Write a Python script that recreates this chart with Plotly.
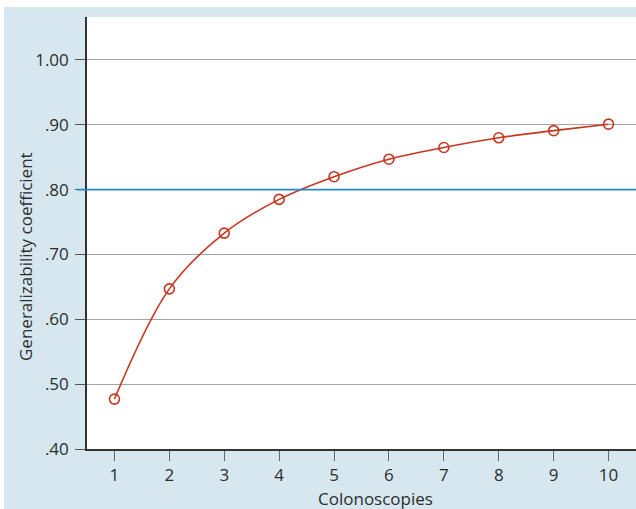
import plotly.graph_objects as go

colonoscopies = [1, 2, 3, 4, 5, 6, 7, 8, 9, 10]
g_coefficient = [0.477, 0.647, 0.733, 0.785, 0.820, 0.847, 0.865, 0.880, 0.891, 0.901]
threshold = 0.80
y_tick_vals = [0.40, 0.50, 0.60, 0.70, 0.80, 0.90, 1.00]
y_tick_text = [".40", ".50", ".60", ".70", ".80", ".90", "1.00"]
x_tick_vals = colonoscopies
x_tick_text = [str(v) for v in colonoscopies]

RED = "#c8351f"
BLUE = "#2389bf"
BG = "#d6e7f0"
FONT = "Open Sans"
TXT = "#2d2d2d"

fig = go.Figure()
fig.add_trace(go.Scatter(
    x=colonoscopies, y=g_coefficient, mode="lines+markers",
    line=dict(color=RED, width=1.6, shape="spline", smoothing=1.0),
    marker=dict(symbol="circle-open", size=10, color=RED, line=dict(width=1.6, color=RED)),
    showlegend=False, cliponaxis=False, hoverinfo="skip",
))

# threshold line, extends into tick area like a tick
fig.add_shape(type="line", xref="paper", yref="y", x0=-10/549, x1=1, y0=threshold, y1=threshold,
              line=dict(color=BLUE, width=1.8), layer="above")
# white strips at top and left of page
fig.add_shape(type="rect", xref="paper", yref="paper", x0=-0.3, x1=1.2,
              y0=(449-7)/432, y1=1.3, fillcolor="white", line=dict(width=0), layer="below")
fig.add_shape(type="rect", xref="paper", yref="paper", x0=-0.3, x1=(4-87)/549,
              y0=-0.3, y1=1.3, fillcolor="white", line=dict(width=0), layer="below")

fig.add_annotation(text="Generalizability coefficient", xref="paper", yref="paper",
                   x=(25-87)/549, y=(449-257)/432, xanchor="center", yanchor="middle",
                   textangle=-90, showarrow=False,
                   font=dict(family=FONT, size=17, color=TXT))
fig.add_annotation(text="Colonoscopies", xref="paper", yref="paper",
                   x=(375.5-87)/549, y=(449-498)/432, xanchor="center", yanchor="middle",
                   showarrow=False,
                   font=dict(family=FONT, size=17, color=TXT))

fig.update_layout(
    width=636, height=509,
    margin=dict(l=87, r=0, t=17, b=60),
    paper_bgcolor=BG, plot_bgcolor="white",
    font=dict(family=FONT, size=17, color=TXT),
    xaxis=dict(range=[0.5, 10.5], tickvals=x_tick_vals, ticktext=x_tick_text,
               showgrid=False, zeroline=False, showline=True, linecolor="#333333", linewidth=1.6,
               ticks="outside", ticklen=10, tickcolor="#666666", tickwidth=1.3,
               tickfont=dict(family=FONT, size=17, color=TXT)),
    yaxis=dict(range=[0.40, 1.0663], tickvals=y_tick_vals, ticktext=y_tick_text,
               showgrid=True, gridcolor="#a3a3a3", gridwidth=1.4, zeroline=False,
               showline=True, linecolor="#333333", linewidth=1.6,
               ticks="outside", ticklen=10, tickcolor="#555555", tickwidth=1.3,
               ticklabelstandoff=3,
               tickfont=dict(family=FONT, size=17, color=TXT)),
)

fig.write_html("out.html", config={"displayModeBar": False},
               post_script="document.body.style.margin='0';")
